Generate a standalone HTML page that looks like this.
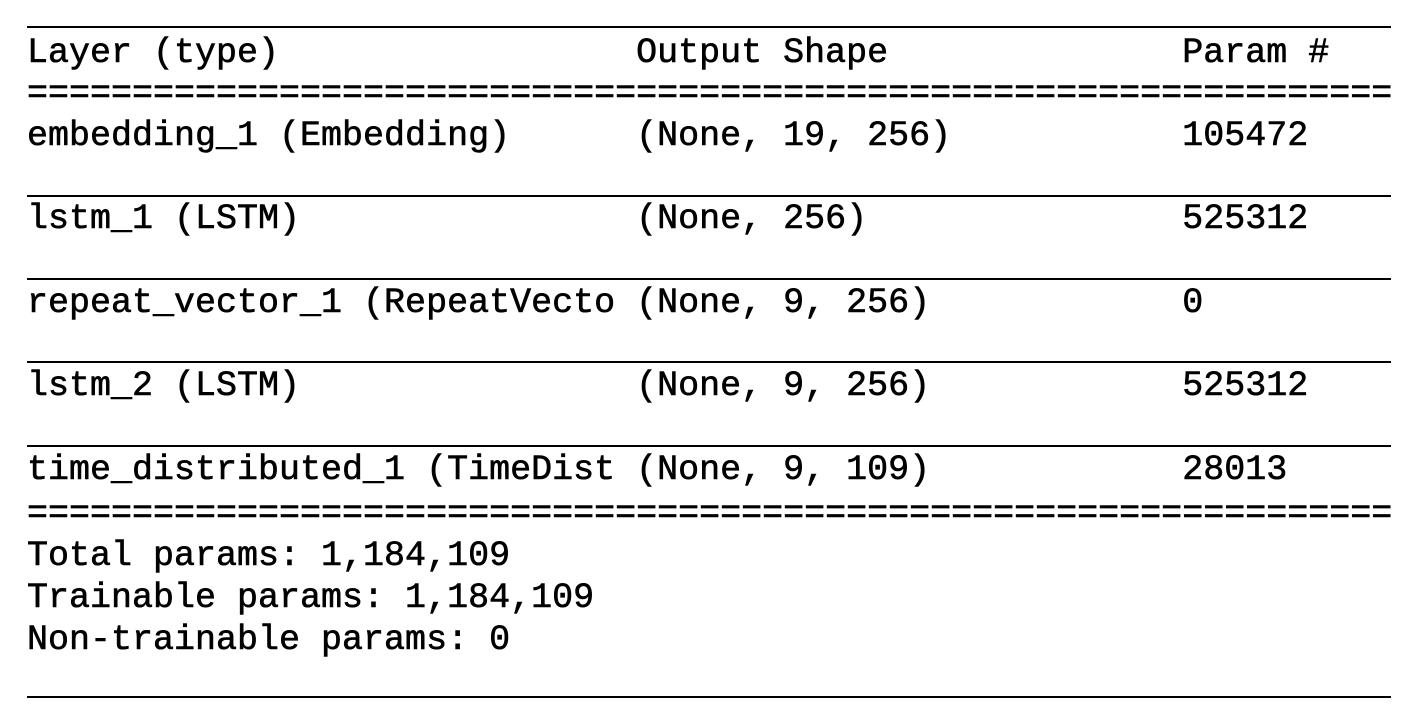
<!DOCTYPE html>
<html><head><meta charset="utf-8"><style>
body{margin:0;width:1428px;height:724px;background:#fff;position:relative;overflow:hidden}
.t{position:absolute;left:27px;font-family:"Liberation Mono",monospace;font-size:35px;line-height:35px;white-space:pre;color:#000;-webkit-text-stroke:0.6px #000}
.l{position:absolute;left:27px;width:1364px;height:2px;background:#000}
</style></head><body>
<div class="l" style="top:26px"></div>
<div class="t" style="top:36px">Layer (type)                 Output Shape              Param #   </div>
<div class="t" style="top:77px">=================================================================</div>
<div class="t" style="top:119px">embedding_1 (Embedding)      (None, 19, 256)           105472    </div>
<div class="l" style="top:195px"></div>
<div class="t" style="top:202px">lstm_1 (LSTM)                (None, 256)               525312    </div>
<div class="l" style="top:278px"></div>
<div class="t" style="top:286px">repeat_vector_1 (RepeatVecto (None, 9, 256)            0         </div>
<div class="l" style="top:361px"></div>
<div class="t" style="top:369px">lstm_2 (LSTM)                (None, 9, 256)            525312    </div>
<div class="l" style="top:445px"></div>
<div class="t" style="top:453px">time_distributed_1 (TimeDist (None, 9, 109)            28013     </div>
<div class="t" style="top:497px">=================================================================</div>
<div class="t" style="top:539px">Total params: 1,184,109</div>
<div class="t" style="top:581px">Trainable params: 1,184,109</div>
<div class="t" style="top:623px">Non-trainable params: 0</div>
<div class="l" style="top:696px"></div>
</body></html>
